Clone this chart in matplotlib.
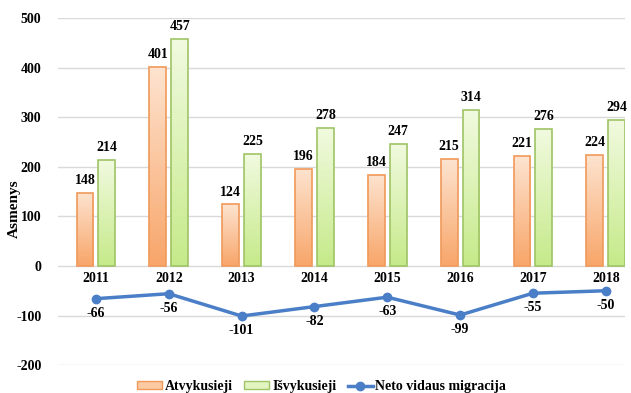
import numpy as np
import matplotlib.pyplot as plt
from matplotlib.colors import LinearSegmentedColormap
from matplotlib.patches import Patch
from matplotlib.lines import Line2D

years = ['2011', '2012', '2013', '2014', '2015', '2016', '2017', '2018']
atvykusieji = [148, 401, 124, 196, 184, 215, 221, 224]
isvykusieji = [214, 457, 225, 278, 247, 314, 276, 294]
neto = [-66, -56, -101, -82, -63, -99, -55, -50]

plt.rcParams['font.family'] = ['Liberation Serif', 'DejaVu Serif']
plt.rcParams['font.weight'] = 'bold'
plt.rcParams['axes.unicode_minus'] = False

fig = plt.figure(figsize=(6.31, 3.93), dpi=100)
ax = fig.add_axes([0.092, 0.071, 0.898, 0.883])

x = np.arange(len(years))
w = 0.23
off = 0.15

orange_cmap = LinearSegmentedColormap.from_list('or', ['#fde3cf', '#f8a66a'])
green_cmap = LinearSegmentedColormap.from_list('gr', ['#f1fadf', '#c6ea8a'])
grad = np.linspace(0, 1, 64).reshape(-1, 1)

def gradient_bars(xs, vals, cmap, edge):
    bars = ax.bar(xs, vals, w, facecolor='none', edgecolor=edge, linewidth=1.2, zorder=3)
    for b in bars:
        x0, y0 = b.get_x(), b.get_y()
        im = ax.imshow(grad, cmap=cmap, aspect='auto', origin='upper',
                       extent=[x0, x0 + b.get_width(), y0, y0 + b.get_height()], zorder=2)
        im.set_clip_path(b)
    return bars

gradient_bars(x - off, atvykusieji, orange_cmap, '#f0995a')
gradient_bars(x + off, isvykusieji, green_cmap, '#9fc465')

fs = 10
for i in x:
    ax.text(i - off, atvykusieji[i] + 12, str(atvykusieji[i]), ha='center', va='bottom', fontsize=fs)
    ax.text(i + off, isvykusieji[i] + 12, str(isvykusieji[i]), ha='center', va='bottom', fontsize=fs)
    ax.text(i, -13, years[i], ha='center', va='top', fontsize=fs)
    ax.text(i, neto[i] - 16, str(neto[i]), ha='center', va='top', fontsize=fs)

ax.plot(x, neto, color='#4a7fc8', linewidth=2.5, marker='o', markersize=6, zorder=4)

ax.set_xlim(-0.52, 7.26)
ax.set_ylim(-200, 500)
ax.set_yticks(range(-200, 501, 100))
ax.set_xticks([])
ax.tick_params(axis='y', length=0, labelsize=fs, pad=12)
ax.grid(axis='y', color='#d9d9d9', linewidth=1)
ax.set_axisbelow(True)
for s in ax.spines.values():
    s.set_visible(False)
ax.set_ylabel('Asmenys', fontsize=11, fontweight='bold')
ax.yaxis.set_label_coords(-0.065, 0.45)

handles = [Patch(facecolor='#fbc9a2', edgecolor='#f0995a', label='Atvykusieji'),
           Patch(facecolor='#e2f4c0', edgecolor='#9fc465', label='Išvykusieji'),
           Line2D([], [], color='#4a7fc8', linewidth=2.5, marker='o', markersize=6,
                  label='Neto vidaus migracija')]
fig.legend(handles=handles, loc='lower center', bbox_to_anchor=(0.51, -0.032), ncol=3,
           frameon=False, handlelength=1.8, handleheight=0.5,
           handletextpad=0.2, columnspacing=0.8, prop={'weight': 'bold', 'size': fs})

fig.savefig('out.png', dpi=100)
